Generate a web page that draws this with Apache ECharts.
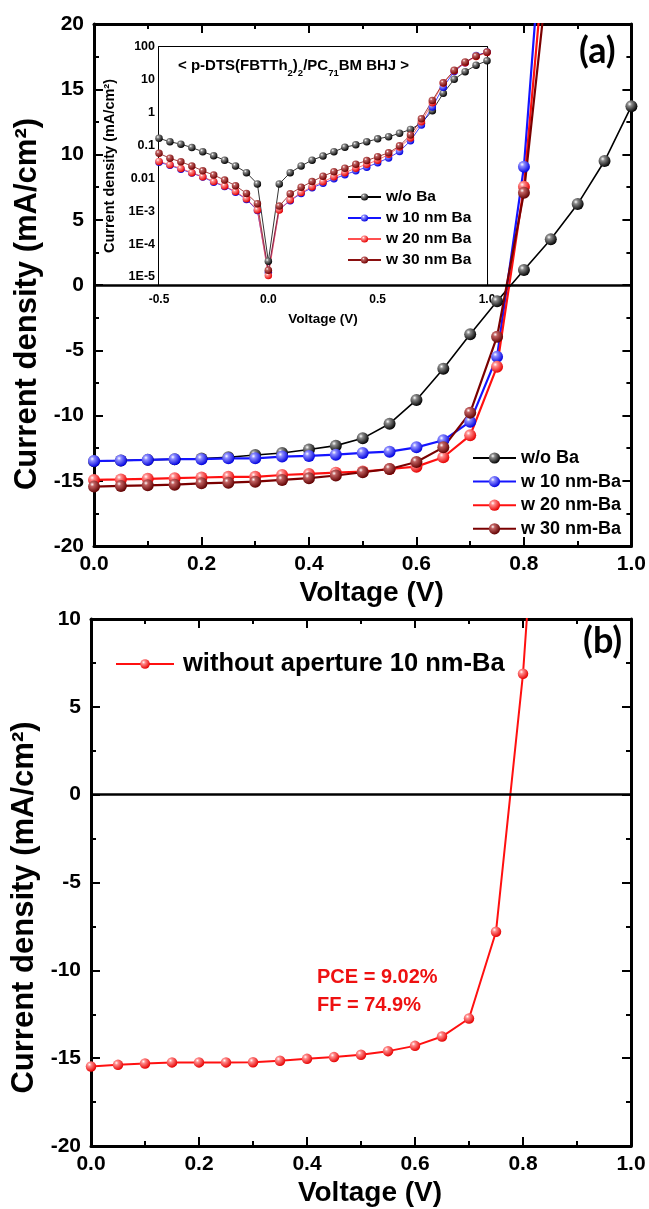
<!DOCTYPE html>
<html><head><meta charset="utf-8">
<script src="https://cdn.jsdelivr.net/npm/echarts@6.0.0/dist/echarts.min.js"></script>
<style>html,body{margin:0;padding:0;background:#fff}#c{width:649px;height:1209px}</style>
</head><body><div id="c"></div>
<script>
// ---------- DATA ----------
// Panel (a) main J-V curves (V in volts, J in mA/cm2)
const voltageMain = [0,0.05,0.1,0.15,0.2,0.25,0.3,0.35,0.4,0.45,0.5,0.55,0.6,0.65,0.7,0.75,0.8,0.85,0.9,0.95,1.0];
const jNoBa  = [-13.5,-13.45,-13.4,-13.35,-13.3,-13.2,-13.03,-12.87,-12.6,-12.31,-11.75,-10.63,-8.81,-6.41,-3.78,-1.25,1.15,3.5,6.2,9.5,13.7];
const j10nm  = [-13.49,-13.45,-13.4,-13.35,-13.35,-13.28,-13.28,-13.15,-13.1,-13.0,-12.87,-12.77,-12.44,-11.9,-10.47,-5.49,9.07,36];
const j20nm  = [-14.94,-14.9,-14.85,-14.8,-14.75,-14.7,-14.7,-14.56,-14.48,-14.38,-14.3,-14.1,-13.92,-13.2,-11.52,-6.26,7.53,30.6];
const j30nm  = [-15.45,-15.4,-15.35,-15.3,-15.2,-15.15,-15.07,-14.94,-14.8,-14.6,-14.35,-14.1,-13.56,-12.44,-9.78,-3.96,7.07,26];
const legendA = ['w/o Ba','w 10 nm-Ba','w 20 nm-Ba','w 30 nm-Ba'];

// Inset: dark current (log scale)
const voltageInset = [-0.5,-0.45,-0.4,-0.35,-0.3,-0.25,-0.2,-0.15,-0.1,-0.05,0,0.05,0.1,0.15,0.2,0.25,0.3,0.35,0.4,0.45,0.5,0.55,0.6,0.65,0.7,0.75,0.8,0.85,0.9,0.95,1.0];
const dNoBa = [0.166,0.131,0.11,0.087,0.065,0.049,0.036,0.024,0.015,0.0068,3e-5,0.0068,0.015,0.024,0.036,0.048,0.065,0.089,0.105,0.131,0.16,0.186,0.236,0.31,0.48,1.15,3.9,10.4,17.8,28,38];
const d10nm = [0.031,0.025,0.019,0.0145,0.011,0.0077,0.0057,0.0038,0.0023,0.00105,1.4e-5,0.00115,0.0021,0.0035,0.0052,0.0071,0.0097,0.013,0.017,0.022,0.03,0.042,0.066,0.14,0.42,1.5,6,18,33,55,70];
const d20nm = [0.033,0.026,0.02,0.015,0.0113,0.008,0.0059,0.004,0.0024,0.0011,1.1e-5,0.0011,0.0022,0.0037,0.0056,0.0079,0.0113,0.015,0.0205,0.027,0.036,0.054,0.09,0.17,0.53,2.0,8,19,33,51,68];
const d30nm = [0.058,0.041,0.032,0.024,0.017,0.0127,0.0089,0.006,0.0035,0.0017,1.6e-5,0.00144,0.0034,0.0054,0.008,0.0117,0.016,0.0205,0.027,0.035,0.046,0.06,0.098,0.21,0.65,2.35,8.1,19.5,35,53,70];
const legendInset = ['w/o Ba ','w 10 nm Ba','w 20 nm Ba','w 30 nm Ba'];

// Panel (b)
const voltageB = [0,0.05,0.1,0.15,0.2,0.25,0.3,0.35,0.4,0.45,0.5,0.55,0.6,0.65,0.7,0.75,0.8,0.85];
const jB = [-15.47,-15.38,-15.3,-15.24,-15.24,-15.24,-15.23,-15.15,-15.04,-14.94,-14.81,-14.6,-14.3,-13.77,-12.74,-7.8,6.88,29];
const legendB = ['without aperture 10 nm-Ba'];

// ---------- CHART ----------
const FONT = '"Liberation Sans", Arial, sans-serif';
const chart = echarts.init(document.getElementById('c'), null, {renderer:'canvas'});
const zip = (xs, ys) => ys.map((y, i) => [xs[i], y]);
const ball = (light, dark) => new echarts.graphic.RadialGradient(0.35, 0.32, 0.7, [
  {offset:0, color:'#ffffff'}, {offset:0.25, color:light}, {offset:1, color:dark}]);

const COLORS = {
  black: {line:'#000000', light:'#8a8a8a', dark:'#000000'},
  blue:  {line:'#1414ff', light:'#8c8cff', dark:'#0000e0'},
  red:   {line:'#ff1010', light:'#ff8c8c', dark:'#e60000'},
  dred:  {line:'#7a0000', light:'#c06060', dark:'#600000'}
};

function axisBase(opts) {
  const lw = opts.lw || 3;
  return {
    type: opts.type || 'value',
    gridIndex: opts.grid,
    position: opts.position,
    min: opts.min, max: opts.max, interval: opts.interval,
    logBase: opts.logBase,
    axisLine: {show:true, onZero:false, lineStyle:{color:'#000', width:lw}},
    axisTick: {show:true, inside:true, length:opts.tick || 9, lineStyle:{color:'#000', width:opts.tw || 2}},
    minorTick: {show: opts.minor !== false, splitNumber: opts.minorSplit || 2, length: opts.minorLen || 5, lineStyle:{color:'#000', width:opts.tw || 2}},
    splitLine: {show:false}, minorSplitLine:{show:false},
    axisLabel: opts.label ? Object.assign({show:true, color:'#000', fontFamily:FONT, fontWeight:'bold'}, opts.label) : {show:false},
    name: opts.name, nameLocation:'middle', nameGap: opts.nameGap,
    nameTextStyle: opts.nameStyle,
    silent: true
  };
}

const bigTitle = (extra) => Object.assign({fontFamily:FONT, fontWeight:'bold', fontSize:31, color:'#000'}, extra || {});
const xTitle = {fontFamily:FONT, fontWeight:'bold', fontSize:28, color:'#000', padding:[0,0,0,18]};

const xAxes = [
  axisBase({grid:0, position:'bottom', min:0, max:1, interval:0.2,
    label:{fontSize:21, margin:8, formatter:v=>v.toFixed(1)},
    name:'Voltage (V)', nameGap:33, nameStyle:xTitle}),
  axisBase({grid:0, position:'top', min:0, max:1, interval:0.2}),
  axisBase({grid:1, position:'bottom', min:-0.5, max:1.0, interval:0.5, lw:2, tick:5, tw:1.2, minorLen:3,
    label:{fontSize:12, margin:9, formatter:v=>v.toFixed(1)},
    name:'Voltage (V)', nameGap:27, nameStyle:{fontFamily:FONT, fontWeight:'bold', fontSize:13.5, color:'#000'}}),
  axisBase({grid:1, position:'top', min:-0.5, max:1.0, interval:0.5, lw:2, tick:5, tw:1.2, minorLen:3}),
  axisBase({grid:2, position:'bottom', min:0, max:1, interval:0.2,
    label:{fontSize:21, margin:8, formatter:v=>v.toFixed(1)},
    name:'Voltage (V)', nameGap:33, nameStyle:xTitle}),
  axisBase({grid:2, position:'top', min:0, max:1, interval:0.2})
];

const logFmt = v => {
  const e = Math.round(Math.log10(v));
  if (e >= 0) return String(Math.pow(10, e));
  if (e === -1) return '0.1';
  if (e === -2) return '0.01';
  return '1E' + e;
};

const yAxes = [
  axisBase({grid:0, position:'left', min:-20, max:20, interval:5,
    label:{fontSize:21, margin:10},
    name:'Current density (mA/cm²)', nameGap:42, nameStyle:bigTitle({padding:[0,38,0,0]})}),
  axisBase({grid:0, position:'right', min:-20, max:20, interval:5}),
  axisBase({grid:1, type:'log', logBase:10, position:'left', min:5.7e-6, max:100, lw:2, tick:5, tw:1.2, minor:false,
    label:{fontSize:12.5, margin:4, formatter:logFmt, showMinLabel:false},
    name:'Current density (mA/cm²)', nameGap:35, nameStyle:{fontFamily:FONT, fontWeight:'bold', fontSize:14.5, color:'#000'}}),
  axisBase({grid:1, type:'log', logBase:10, position:'right', min:5.7e-6, max:100, lw:2, tick:5, tw:1.2, minor:false}),
  axisBase({grid:2, position:'left', min:-20, max:10, interval:5,
    label:{fontSize:21, margin:10},
    name:'Current density (mA/cm²)', nameGap:42, nameStyle:bigTitle({padding:[0,50,0,0]})}),
  axisBase({grid:2, position:'right', min:-20, max:10, interval:5})
];

function lineSeries(name, xs, ys, col, xi, yi, size, width, extra) {
  return Object.assign({
    type:'line', name, xAxisIndex:xi, yAxisIndex:yi,
    data: zip(xs, ys), symbol:'circle', symbolSize:size, showAllSymbol:true,
    lineStyle:{color:col.line, width:width},
    itemStyle:{color: ball(col.light, col.dark), borderWidth:0},
    emphasis:{disabled:true}, animation:false, clip:true
  }, extra || {});
}

const zeroLine = {silent:true, symbol:['none','none'], label:{show:false},
  lineStyle:{color:'#000', width:2.5, type:'solid'}, data:[{yAxis:0}], animation:false};

const series = [
  lineSeries(legendA[0], voltageMain, jNoBa, COLORS.black, 0, 0, 12, 1.6, {markLine: zeroLine}),
  lineSeries(legendA[1], voltageMain, j10nm, COLORS.blue, 0, 0, 12, 2.2),
  lineSeries(legendA[2], voltageMain, j20nm, COLORS.red, 0, 0, 12, 2.2),
  lineSeries(legendA[3], voltageMain, j30nm, COLORS.dred, 0, 0, 12, 2.2),
  lineSeries(legendInset[0], voltageInset, dNoBa, COLORS.black, 2, 2, 7.5, 0.8),
  lineSeries(legendInset[1], voltageInset, d10nm, COLORS.blue, 2, 2, 7.5, 0.8),
  lineSeries(legendInset[2], voltageInset, d20nm, {line:'#ff5050', light:'#ff9090', dark:'#e60000'}, 2, 2, 7.5, 0.8),
  lineSeries(legendInset[3], voltageInset, d30nm, {line:'#8a1010', light:'#c06060', dark:'#700000'}, 2, 2, 7.5, 0.8),
  lineSeries(legendB[0], voltageB, jB, COLORS.red, 4, 4, 10.5, 2, {markLine: zeroLine})
];

const option = {
  backgroundColor:'#fff',
  animation:false,
  grid:[
    {left:94, top:24, width:539, height:522},
    {left:159, top:47, width:328, height:238, show:true, backgroundColor:'#fff', borderWidth:0, z:1},
    {left:91, top:619, width:540, height:527}
  ],
  xAxis: xAxes,
  yAxis: yAxes,
  legend:[
    {data:legendA, orient:'vertical', left:467, top:444, itemWidth:43, itemHeight:14, itemGap:5.6,
     selectedMode:false, textStyle:{fontFamily:FONT, fontWeight:'bold', fontSize:18, lineHeight:18, color:'#000'}},
    {data:legendInset, orient:'vertical', left:342, top:184, itemWidth:33, itemHeight:9, itemGap:5,
     selectedMode:false, textStyle:{fontFamily:FONT, fontWeight:'bold', fontSize:15.5, lineHeight:15.5, color:'#000'}},
    {data:legendB, orient:'vertical', left:110, top:646, itemWidth:58, itemHeight:12, itemGap:5,
     selectedMode:false, textStyle:{fontFamily:FONT, fontWeight:'bold', fontSize:25.5, lineHeight:24, color:'#000', padding:[0,0,0,4]}}
  ],
  graphic:[
    {type:'text', left:579, top:33, z:100, silent:true,
     style:{text:'(a)', font:'bold 36px Lato, "Open Sans", sans-serif', fill:'#000'}},
    {type:'text', left:583, top:623, z:100, silent:true,
     style:{text:'(b)', font:'bold 36px Lato, "Open Sans", sans-serif', fill:'#000'}},
    {type:'text', left:178, top:58, z:100, silent:true,
     style:{text:'{n|< p-DTS(FBTTh}{s|2}{n|)}{s|2}{n|/PC}{s|71}{n|BM BHJ >}',
       rich:{n:{fontFamily:FONT, fontWeight:'bold', fontSize:15, lineHeight:20, verticalAlign:'top', fill:'#000', color:'#000'},
             s:{fontFamily:FONT, fontWeight:'bold', fontSize:9.5, lineHeight:10, verticalAlign:'bottom', fill:'#000', color:'#000'}}}},
    {type:'text', left:317, top:967, z:100, silent:true,
     style:{text:'PCE = 9.02%', font:'bold 20px "Liberation Sans", Arial, sans-serif', fill:'#ee1111'}},
    {type:'text', left:317, top:995, z:100, silent:true,
     style:{text:'FF = 74.9%', font:'bold 20px "Liberation Sans", Arial, sans-serif', fill:'#ee1111'}}
  ],
  series
};
chart.setOption(option);
</script></body></html>
